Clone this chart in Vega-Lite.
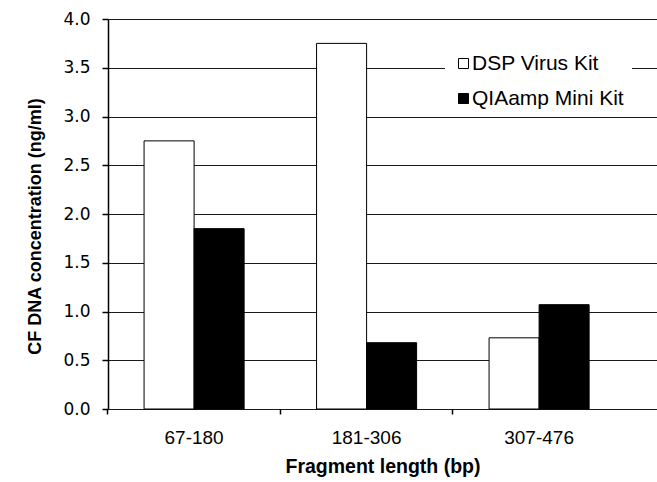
{
  "$schema": "https://vega.github.io/schema/vega-lite/v6.json",
  "autosize": "none",
  "width": 549,
  "height": 390,
  "padding": {"left": 108, "top": 19, "right": 0, "bottom": 73},
  "background": "white",
  "config": {
    "font": "Liberation Sans",
    "view": {"stroke": null}
  },
  "data": {
    "values": [
      {"fragment": "67-180", "kit": "DSP Virus Kit", "conc": 2.75},
      {"fragment": "67-180", "kit": "QIAamp Mini Kit", "conc": 1.85},
      {"fragment": "181-306", "kit": "DSP Virus Kit", "conc": 3.75},
      {"fragment": "181-306", "kit": "QIAamp Mini Kit", "conc": 0.68},
      {"fragment": "307-476", "kit": "DSP Virus Kit", "conc": 0.73},
      {"fragment": "307-476", "kit": "QIAamp Mini Kit", "conc": 1.07}
    ]
  },
  "mark": {"type": "bar", "stroke": "black", "strokeWidth": 1},
  "encoding": {
    "x": {
      "field": "fragment",
      "type": "nominal",
      "sort": ["67-180", "181-306", "307-476"],
      "scale": {"paddingInner": 0.42, "paddingOuter": 0.3013, "align": 0.347},
      "axis": {
        "title": "Fragment length (bp)",
        "titleFont": "Liberation Sans",
        "titleFontSize": 19.5,
        "titleFontWeight": "bold",
        "titleColor": "black",
        "titlePadding": 10,
        "labelFont": "Liberation Sans",
        "labelFontSize": 19,
        "labelColor": "black",
        "labelAngle": 0,
        "labelPadding": 14,
        "bandPosition": -0.362,
        "labelOffset": 0,
        "tickColor": "black",
        "tickSize": 5,
        "tickWidth": 1.5,
        "domain": false,
        "grid": false
      }
    },
    "xOffset": {
      "field": "kit",
      "type": "nominal",
      "sort": ["DSP Virus Kit", "QIAamp Mini Kit"],
      "scale": {"paddingInner": 0, "paddingOuter": 0}
    },
    "y": {
      "field": "conc",
      "type": "quantitative",
      "scale": {"domain": [0, 4], "nice": false},
      "axis": {
        "title": "CF DNA concentration (ng/ml)",
        "titleFont": "Liberation Sans",
        "titleFontSize": 18,
        "titleFontWeight": "bold",
        "titleColor": "black",
        "titlePadding": 18,
        "titleY": 207,
        "values": [0, 0.5, 1, 1.5, 2, 2.5, 3, 3.5, 4],
        "format": ".1f",
        "labelFont": "DejaVu Sans",
        "labelFontSize": 17,
        "labelColor": "black",
        "labelPadding": 12,
        "tickColor": "black",
        "tickSize": 6,
        "tickWidth": 1.5,
        "domainColor": "black",
        "domainWidth": 1.5,
        "grid": true,
        "gridColor": "#1a1a1a",
        "gridWidth": 1.2,
        "gridOpacity": 1
      }
    },
    "fill": {
      "field": "kit",
      "type": "nominal",
      "scale": {"domain": ["DSP Virus Kit", "QIAamp Mini Kit"], "range": ["white", "black"]},
      "legend": {
        "title": null,
        "orient": "none",
        "legendX": 337,
        "legendY": 26,
        "fillColor": "white",
        "padding": 8,
        "symbolType": "square",
        "symbolSize": 100,
        "symbolStrokeColor": "black",
        "symbolStrokeWidth": 1,
        "labelFont": "Liberation Sans",
        "labelFontSize": 21,
        "labelColor": "black",
        "labelOffset": -2,
        "rowPadding": 13
      }
    }
  }
}
